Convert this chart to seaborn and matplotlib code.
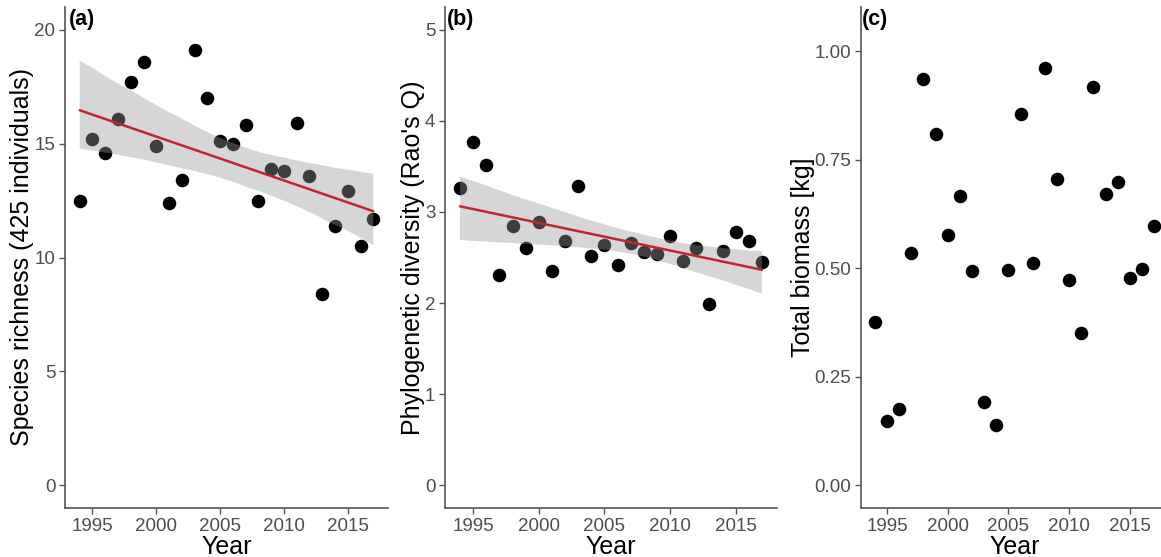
import matplotlib.pyplot as plt
import numpy as np
import pandas as pd
import seaborn as sns

# values
years = list(range(1994, 2018))
richness = [12.5, 15.2, 14.6, 16.1, 17.7, 18.6, 14.9, 12.4, 13.4, 19.1, 17.0, 15.1,
            15.0, 15.8, 12.5, 13.9, 13.8, 15.9, 13.6, 8.4, 11.4, 12.9, 10.5, 11.7]
raos_q = [3.26, 3.77, 3.52, 2.31, 2.85, 2.60, 2.89, 2.35, 2.68, 3.28, 2.52, 2.64,
          2.42, 2.66, 2.56, 2.54, 2.74, 2.46, 2.60, 1.99, 2.57, 2.78, 2.68, 2.45]
biomass = [0.376, 0.148, 0.175, 0.535, 0.936, 0.810, 0.577, 0.666, 0.493, 0.193, 0.140, 0.496,
           0.856, 0.512, 0.963, 0.707, 0.473, 0.350, 0.917, 0.671, 0.700, 0.477, 0.499, 0.597]

year_ticks = [1995, 2000, 2005, 2010, 2015]
panel_tags = ['(a)', '(b)', '(c)']
y_labels = ['Species richness (425 individuals)', "Phylogenetic diversity (Rao's Q)", 'Total biomass [kg]']
y_ticks = [[0, 5, 10, 15, 20], [0, 1, 2, 3, 4, 5], [0, 0.25, 0.5, 0.75, 1.0]]

df = pd.DataFrame({'year': years, 'richness': richness, 'raos_q': raos_q, 'biomass': biomass})

sns.set_theme(style='white')
plt.rcParams['font.family'] = ['Liberation Sans', 'DejaVu Sans']

W, H = 1161, 557
fig = plt.figure(figsize=(W / 100, H / 100), dpi=100)

# axes boxes in pixels: left, right
boxes = [(65, 388), (445, 777), (861, 1168)]
top, bottom = 7, 508
axes = []
for (l, r) in boxes:
    axes.append(fig.add_axes([l / W, 1 - bottom / H, (r - l) / W, (bottom - top) / H]))

cols = ['richness', 'raos_q', 'biomass']
ylims = [(-1, 21), (-0.25, 5.25), (-0.0525, 1.1025)]

for i, ax in enumerate(axes):
    sns.scatterplot(data=df, x='year', y=cols[i], ax=ax, color='black', s=95, linewidth=0, zorder=1)
    if i < 2:
        sns.regplot(data=df, x='year', y=cols[i], ax=ax, scatter=False, color='#999999',
                    n_boot=2000, seed=3, line_kws=dict(color='#C0272D', lw=1.8))
        band = ax.collections[-1]
        band.set_facecolor('#999999')
        band.set_alpha(0.4)
        band.set_edgecolor('none')
    ax.set_xlim(1992.85, 2018.15)
    ax.set_ylim(*ylims[i])
    ax.set_xticks(year_ticks)
    ax.set_yticks(y_ticks[i])
    if i == 2:
        ax.set_yticklabels(['%.2f' % v for v in y_ticks[i]])
    ax.set_xlabel('Year', fontsize=18, color='black', labelpad=0)
    ax.set_ylabel(y_labels[i], fontsize=18, color='black', labelpad=0)
    sns.despine(ax=ax)
    for s in ['left', 'bottom']:
        ax.spines[s].set_color('#555555')
        ax.spines[s].set_linewidth(1.2)
    ax.tick_params(axis='both', which='major', length=4, width=1, color='#555555',
                   labelcolor='#4D4D4D', labelsize=13.5, pad=3, left=True, bottom=True)

tag_x = [69, 447, 862]
for tx, tag in zip(tag_x, panel_tags):
    fig.text(tx / W, 1 - 20 / H, tag, fontsize=15.5, fontweight='bold', color='black',
             ha='left', va='center')

fig.savefig('out.png', dpi=100)
